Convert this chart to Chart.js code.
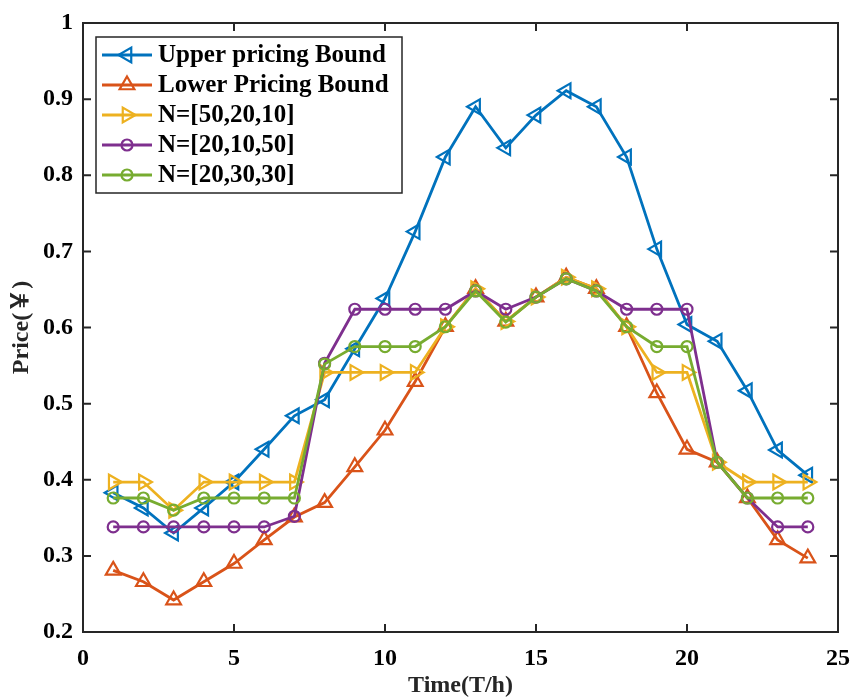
<!DOCTYPE html>
<html lang="en">
<head>
    <meta charset="UTF-8">
    <title>Price bounds</title>
    <script src="https://cdn.jsdelivr.net/npm/chart.js"></script>
    <style>
        html, body { margin: 0; padding: 0; background: #fff; }
        #wrap { width: 853px; height: 697px; }
    </style>
</head>
<body>
    <div id="wrap"><canvas id="priceChart" width="853" height="697"></canvas></div>
    <script>
        const hours = [1, 2, 3, 4, 5, 6, 7, 8, 9, 10, 11, 12, 13, 14, 15, 16, 17, 18, 19, 20, 21, 22, 23, 24];
        const upperBound = [0.383, 0.363, 0.330, 0.363, 0.397, 0.440, 0.484, 0.505, 0.572, 0.638, 0.726, 0.824,
                            0.890, 0.836, 0.879, 0.911, 0.890, 0.824, 0.703, 0.604, 0.582, 0.517, 0.439, 0.406];
        const lowerBound = [0.281, 0.266, 0.242, 0.266, 0.290, 0.321, 0.351, 0.370, 0.417, 0.465, 0.529, 0.601,
                            0.651, 0.608, 0.640, 0.666, 0.651, 0.601, 0.514, 0.440, 0.423, 0.376, 0.321, 0.297];
        const n50_20_10 = [0.397, 0.397, 0.360, 0.397, 0.397, 0.397, 0.397, 0.541, 0.541, 0.541, 0.541, 0.601,
                           0.651, 0.608, 0.640, 0.666, 0.651, 0.601, 0.541, 0.541, 0.423, 0.397, 0.397, 0.397];
        const n20_10_50 = [0.338, 0.338, 0.338, 0.338, 0.338, 0.338, 0.352, 0.553, 0.624, 0.624, 0.624, 0.624,
                           0.648, 0.624, 0.640, 0.664, 0.648, 0.624, 0.624, 0.624, 0.423, 0.376, 0.338, 0.338];
        const n20_30_30 = [0.376, 0.376, 0.360, 0.376, 0.376, 0.376, 0.376, 0.552, 0.575, 0.575, 0.575, 0.601,
                           0.648, 0.607, 0.640, 0.664, 0.648, 0.601, 0.575, 0.575, 0.423, 0.376, 0.376, 0.376];
        const xTicks = [0, 5, 10, 15, 20, 25];
        const yTicks = [0.2, 0.3, 0.4, 0.5, 0.6, 0.7, 0.8, 0.9, 1];

        const serif = '"Liberation Serif", "Times New Roman", "Noto Sans CJK SC", serif';
        const axisColor = '#262626';

        function toPoints(values) {
            return hours.map((h, i) => ({ x: h, y: values[i] }));
        }

        function series(label, values, color, style, rotation, radius, order) {
            return {
                label: label,
                data: toPoints(values),
                borderColor: color,
                backgroundColor: color,
                borderWidth: 2.8,
                pointStyle: style,
                pointRotation: rotation,
                pointRadius: radius,
                pointBorderWidth: 2.2,
                pointBackgroundColor: 'rgba(0,0,0,0)',
                pointBorderColor: color,
                tension: 0,
                fill: false,
                order: order
            };
        }

        function drawMarker(ctx, style, rotation, radius, color, x, y) {
            ctx.save();
            ctx.strokeStyle = color;
            ctx.lineWidth = 2.2;
            ctx.beginPath();
            if (style === 'circle') {
                ctx.arc(x, y, radius, 0, Math.PI * 2);
            } else {
                let rad = rotation * Math.PI / 180;
                for (let k = 0; k < 3; k++) {
                    const px = x + Math.sin(rad) * radius;
                    const py = y - Math.cos(rad) * radius;
                    if (k === 0) ctx.moveTo(px, py); else ctx.lineTo(px, py);
                    rad += 2 * Math.PI / 3;
                }
                ctx.closePath();
            }
            ctx.stroke();
            ctx.restore();
        }

        const framePlugin = {
            id: 'matlabFrame',
            afterDraw(chart) {
                const ctx = chart.ctx;
                const a = chart.chartArea;
                const xs = chart.scales.x;
                const ys = chart.scales.y;
                ctx.save();
                ctx.strokeStyle = axisColor;
                ctx.lineWidth = 2;
                ctx.strokeRect(a.left, a.top, a.right - a.left, a.bottom - a.top);
                ctx.beginPath();
                xTicks.forEach(t => {
                    const px = xs.getPixelForValue(t);
                    ctx.moveTo(px, a.bottom); ctx.lineTo(px, a.bottom - 8);
                    ctx.moveTo(px, a.top); ctx.lineTo(px, a.top + 8);
                });
                yTicks.forEach(t => {
                    const py = ys.getPixelForValue(t);
                    ctx.moveTo(a.left, py); ctx.lineTo(a.left + 8, py);
                    ctx.moveTo(a.right, py); ctx.lineTo(a.right - 8, py);
                });
                ctx.stroke();

                // axis titles
                ctx.fillStyle = axisColor;
                ctx.font = 'bold 24px ' + serif;
                ctx.textAlign = 'center';
                ctx.textBaseline = 'middle';
                ctx.fillText('Time(T/h)', (a.left + a.right) / 2, 686);
                ctx.translate(22, (a.top + a.bottom) / 2);
                ctx.rotate(-Math.PI / 2);
                ctx.fillText('Price(￥)', 0, 0);
                ctx.restore();

                // legend box
                ctx.save();
                const bx = 96, by = 37, bw = 306, bh = 156;
                ctx.fillStyle = '#fff';
                ctx.fillRect(bx, by, bw, bh);
                ctx.strokeStyle = axisColor;
                ctx.lineWidth = 1.5;
                ctx.strokeRect(bx, by, bw, bh);
                ctx.font = 'bold 25px ' + serif;
                ctx.textAlign = 'left';
                ctx.textBaseline = 'middle';
                chart.data.datasets.forEach((ds, i) => {
                    const y = 55 + i * 30;
                    ctx.strokeStyle = ds.borderColor;
                    ctx.lineWidth = 2.8;
                    ctx.beginPath();
                    ctx.moveTo(102, y); ctx.lineTo(152, y);
                    ctx.stroke();
                    drawMarker(ctx, ds.pointStyle, ds.pointRotation, ds.pointRadius, ds.borderColor, 127, y);
                    ctx.fillStyle = '#000';
                    ctx.fillText(ds.label, 158, y + 1);
                });
                ctx.restore();
            }
        };

        const ctx = document.getElementById('priceChart').getContext('2d');
        const priceChart = new Chart(ctx, {
            type: 'line',
            data: {
                datasets: [
                    series('Upper pricing Bound', upperBound, '#0072BD', 'triangle', -90, 8.5, 5),
                    series('Lower Pricing Bound', lowerBound, '#D95319', 'triangle', 0, 8.5, 4),
                    series('N=[50,20,10]', n50_20_10, '#EDB120', 'triangle', 90, 8.5, 3),
                    series('N=[20,10,50]', n20_10_50, '#7E2F8E', 'circle', 0, 5.5, 2),
                    series('N=[20,30,30]', n20_30_30, '#77AC30', 'circle', 0, 5.5, 1)
                ]
            },
            options: {
                responsive: false,
                animation: false,
                layout: { padding: { top: 23, right: 15, left: 0, bottom: 0 } },
                plugins: {
                    legend: { display: false },
                    tooltip: { enabled: false }
                },
                scales: {
                    x: {
                        type: 'linear',
                        min: 0,
                        max: 25,
                        grid: { display: false, drawTicks: false },
                        border: { display: false },
                        afterFit(scale) { scale.height = 65; scale.paddingLeft = 0; scale.paddingRight = 0; },
                        afterBuildTicks(scale) { scale.ticks = xTicks.map(v => ({ value: v })); },
                        ticks: {
                            padding: 12,
                            color: '#000',
                            font: { family: serif, size: 24, weight: 'bold' }
                        }
                    },
                    y: {
                        type: 'linear',
                        min: 0.2,
                        max: 1,
                        grid: { display: false, drawTicks: false },
                        border: { display: false },
                        afterFit(scale) { scale.width = 83; scale.paddingTop = 0; scale.paddingBottom = 0; },
                        afterBuildTicks(scale) { scale.ticks = yTicks.map(v => ({ value: v })); },
                        ticks: {
                            padding: 10,
                            color: '#000',
                            font: { family: serif, size: 24, weight: 'bold' },
                            callback: v => String(Math.round(v * 10) / 10)
                        }
                    }
                }
            },
            plugins: [framePlugin]
        });
    </script>
</body>
</html>
